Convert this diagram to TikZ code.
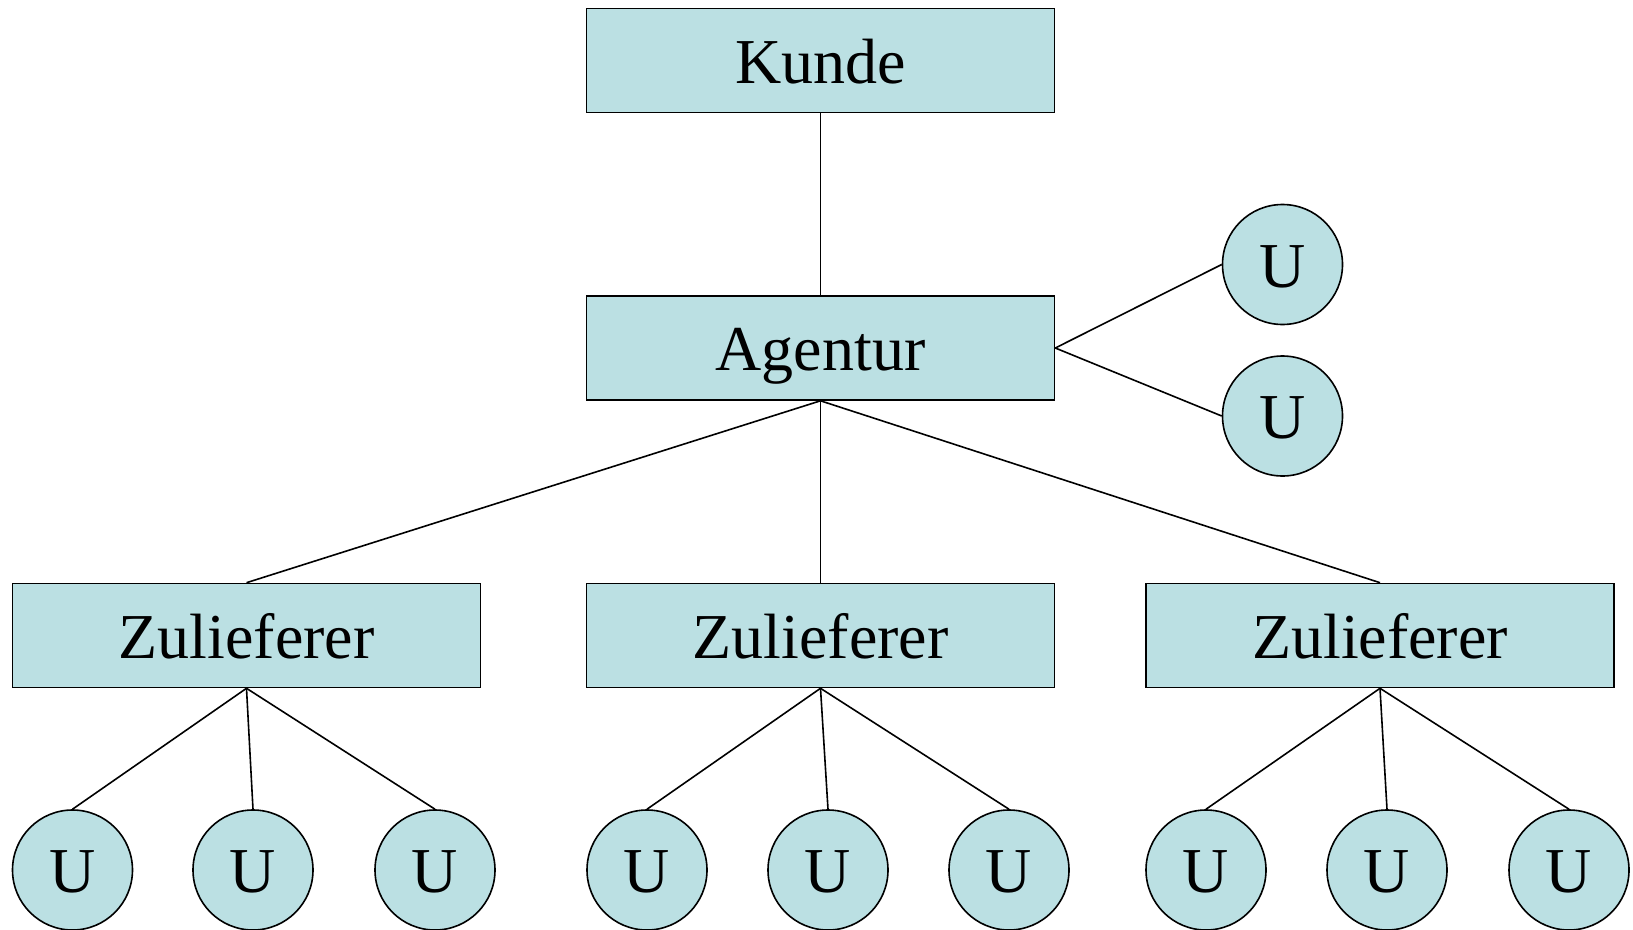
\documentclass[tikz,border=0pt]{standalone}
\usepackage{fontspec}
\setmainfont{Liberation Serif}
\definecolor{boxfill}{RGB}{187,224,227}
\begin{document}
\begin{tikzpicture}[x=1pt,y=-1pt,
  lbl/.style={font=\fontsize{64}{64}\selectfont,text height=45pt,text depth=0pt},
  box/.style={lbl,draw=black,line width=1.6pt,fill=boxfill,minimum width=468pt,minimum height=104pt,inner sep=0pt},
  unit/.style={lbl,draw=black,line width=1.6pt,fill=boxfill,circle,minimum size=120pt,inner sep=0pt},
  link/.style={line width=1.6pt}]
\useasboundingbox (0,0) rectangle (1633,929);
\node[box] (kunde) at (820.5,60.5) {Kunde};
\node[box] (agentur) at (820.5,348) {Agentur};
\node[unit] (ua) at (1282.5,264.5) {U};
\node[unit] (ub) at (1282.5,416) {U};
\node[box] (z1) at (246.5,635.5) {Zulieferer};
\node[box] (z2) at (820.5,635.5) {Zulieferer};
\node[box] (z3) at (1380,635.5) {Zulieferer};
\node[unit] (u11) at (72.5,870) {U};
\node[unit] (u12) at (253,870) {U};
\node[unit] (u13) at (435,870) {U};
\node[unit] (u21) at (647,870) {U};
\node[unit] (u22) at (828,870) {U};
\node[unit] (u23) at (1009,870) {U};
\node[unit] (u31) at (1206,870) {U};
\node[unit] (u32) at (1387,870) {U};
\node[unit] (u33) at (1569,870) {U};
\draw[link] (kunde.south) -- (agentur.north);
\draw[link] (agentur.east) -- (ua.west);
\draw[link] (agentur.east) -- (ub.west);
\foreach \z in {1,2,3}{
  \draw[link] (agentur.south) -- (z\z.north);
  \foreach \u in {1,2,3}{
    \draw[link] (z\z.south) -- (u\z\u.north);
  }
}
\end{tikzpicture}
\end{document}
